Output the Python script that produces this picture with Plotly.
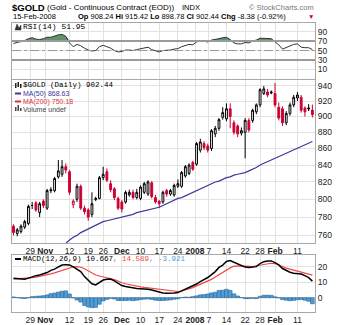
import plotly.graph_objects as go

W, H = 346, 325

# ---------------- data ----------------
dates = [
    "2007-10-22", "2007-10-23", "2007-10-24", "2007-10-25", "2007-10-26",
    "2007-10-29", "2007-10-30", "2007-10-31", "2007-11-01", "2007-11-02",
    "2007-11-05", "2007-11-06", "2007-11-07", "2007-11-08", "2007-11-09",
    "2007-11-12", "2007-11-13", "2007-11-14", "2007-11-15", "2007-11-16",
    "2007-11-19", "2007-11-20", "2007-11-21", "2007-11-23",
    "2007-11-26", "2007-11-27", "2007-11-28", "2007-11-29", "2007-11-30",
    "2007-12-03", "2007-12-04", "2007-12-05", "2007-12-06", "2007-12-07",
    "2007-12-10", "2007-12-11", "2007-12-12", "2007-12-13", "2007-12-14",
    "2007-12-17", "2007-12-18", "2007-12-19", "2007-12-20", "2007-12-21",
    "2007-12-24", "2007-12-26", "2007-12-27", "2007-12-28",
    "2007-12-31", "2008-01-02", "2008-01-03", "2008-01-04",
    "2008-01-07", "2008-01-08", "2008-01-09", "2008-01-10", "2008-01-11",
    "2008-01-14", "2008-01-15", "2008-01-16", "2008-01-17", "2008-01-18",
    "2008-01-22", "2008-01-23", "2008-01-24", "2008-01-25",
    "2008-01-28", "2008-01-29", "2008-01-30", "2008-01-31", "2008-02-01",
    "2008-02-04", "2008-02-05", "2008-02-06", "2008-02-07", "2008-02-08",
    "2008-02-11", "2008-02-12", "2008-02-13", "2008-02-14", "2008-02-15",
]

open_ = [770, 762, 764, 769, 773, 793, 796, 785, 798, 790,
         811, 810, 826, 829, 838, 832, 794, 800, 815, 790,
         788, 783, 801, 801, 825, 832, 818, 812, 801, 797,
         797, 805, 808, 802, 801, 808, 806, 819, 802, 798,
         797, 810, 806, 805, 815, 815, 827, 830, 843, 841,
         858, 866, 863, 860, 878, 885, 899, 897, 910, 892,
         888, 879, 880, 895, 895, 906, 915, 930, 932, 932,
         930, 912, 910, 892, 904, 915, 924, 925, 911, 911, 908.24]
high = [772, 768, 772, 777, 794, 797, 798, 797, 800, 812,
        814, 826, 846, 846, 842, 834, 800, 818, 817, 793,
        790, 808, 803, 827, 838, 836, 822, 814, 803, 799,
        810, 811, 811, 812, 816, 820, 822, 821, 805, 799,
        810, 812, 812, 818, 823, 833, 840, 842, 845, 868,
        872, 869, 866, 884, 888, 898, 912, 917, 917, 895,
        890, 886, 898, 898, 910, 917, 937, 940, 936, 934,
        944, 918, 913, 907, 918, 928, 932, 928, 913, 916, 915.42]
low = [760, 759, 762, 767, 771, 789, 786, 780, 790, 788,
       807, 808, 824, 826, 830, 805, 790, 797, 788, 783,
       776, 780, 798, 800, 822, 820, 808, 799, 788, 785,
       795, 803, 800, 800, 799, 806, 804, 801, 795, 790,
       795, 803, 804, 803, 813, 813, 825, 828, 833, 839,
       855, 858, 855, 857, 874, 882, 896, 894, 885, 877,
       874, 876, 848, 880, 892, 903, 912, 928, 925, 929,
       912, 895, 888, 889, 901, 912, 920, 905, 900, 907, 898.78]
close = [763, 766, 770, 775, 792, 793, 788, 795, 793, 810,
         810, 824, 833, 838, 834, 808, 798, 815, 790, 786,
         780, 795, 800, 825, 829, 822, 811, 802, 790, 789,
         808, 808, 802, 808, 814, 818, 820, 803, 797, 795,
         808, 806, 810, 816, 818, 831, 838, 840, 835, 866,
         868, 861, 858, 882, 885, 896, 905, 910, 900, 880,
         878, 882, 895, 883, 908, 915, 935, 936, 928, 931,
         915, 898, 892, 904, 915, 925, 928, 908, 906, 910, 902.44]
close_before_first = 768

ma50 = [None] * 13 + [
    748, 752, 755, 758, 760, 763, 765, 767, 769, 771,
    773, 775, 776, 777, 778, 779, 780, 781, 782, 783,
    785, 786, 787, 788, 789, 790, 791, 793, 795, 797,
    799, 801, 802, 804, 806, 808, 810, 812, 814, 816,
    818, 820, 821, 823, 825, 826, 828, 829, 830, 831,
    833, 835, 837, 840, 842, 844, 846, 848, 850, 852,
    854, 856, 858, 860, 862, 864, 866, 868.63]

rsi = [65, 67, 69, 71, 75, 77, 74, 73, 75, 78,
       78, 81, 83, 84, 80, 66, 58, 63, 60, 55,
       51, 49, 50, 58, 61, 58, 55, 50, 47, 48,
       51, 51, 50, 52, 54, 56, 57, 52, 49, 47,
       50, 50, 51, 53, 54, 58, 61, 63, 62, 68,
       71, 69, 68, 72, 73, 75, 77, 78, 73, 66,
       64, 64, 67, 66, 70, 72, 76, 76, 75, 75,
       68, 62, 53, 56, 60, 63, 64, 57, 56, 56, 51.95]

macd = [12.5, 12.2, 11.9, 11.9, 12.6, 13.6, 14.2, 14.6, 15.2, 16.2,
        17.6, 18.4, 19.8, 21.0, 21.3, 21.1, 19.8, 18.5, 16.8, 13.6,
        11.0, 9.0, 8.2, 9.8, 11.4, 11.9, 12.0, 10.8, 9.0, 7.8,
        7.2, 6.8, 6.1, 5.9, 5.8, 5.7, 5.5, 4.9, 4.1, 3.4,
        3.0, 2.9, 2.8, 3.0, 3.3, 4.4, 5.4, 6.3, 7.2, 8.8,
        10.4, 11.6, 13.0, 14.9, 16.8, 19.5, 21.0, 23.3, 23.9, 22.8,
        21.7, 20.6, 19.7, 19.4, 19.6, 20.0, 22.0, 23.2, 23.6, 23.7,
        22.6, 21.1, 18.8, 17.4, 16.4, 15.8, 15.6, 15.3, 14.2, 12.9, 10.667]
signal = [12.0, 12.1, 12.2, 12.4, 12.6, 12.9, 13.3, 13.7, 14.2, 14.7,
          15.3, 16.0, 16.8, 17.7, 18.6, 19.3, 19.9, 20.0, 19.6, 18.6,
          17.2, 15.6, 14.6, 14.0, 13.5, 13.0, 12.4, 11.6, 10.8, 9.6,
          9.0, 8.4, 8.0, 7.5, 7.0, 6.6, 6.3, 6.0, 5.7, 5.2,
          4.8, 4.5, 4.2, 4.0, 4.0, 4.3, 5.0, 6.0, 6.5, 7.6,
          8.6, 9.6, 10.6, 11.8, 13.3, 14.8, 16.2, 17.9, 19.2, 20.3,
          20.6, 20.5, 20.3, 20.0, 20.0, 20.6, 21.1, 21.6, 22.0, 22.2,
          22.0, 21.2, 20.0, 19.0, 18.3, 17.5, 16.9, 16.4, 15.8, 15.2, 14.589]
hist = [0.5, 0.1, -0.3, -0.5, 0.0, 0.7, 0.9, 1.1, 1.3, 1.8,
        2.6, 3.0, 3.6, 4.2, 4.4, 2.4, -0.1, -1.5, -2.8, -5.0,
        -6.0, -6.4, -6.2, -4.2, -2.1, -1.1, -0.4, -0.8, -1.8, -1.8,
        -1.8, -1.6, -1.9, -1.6, -1.2, -0.9, -0.8, -1.1, -1.6, -1.8,
        -1.8, -1.6, -1.4, -1.0, -0.7, 0.1, 0.4, 0.3, 0.7, 1.2,
        1.8, 2.0, 2.4, 3.1, 3.5, 4.7, 4.8, 5.4, 4.7, 2.5,
        1.1, 0.1, -0.6, -0.6, -0.4, -0.6, 0.9, 1.6, 1.6, 1.5,
        0.6, -0.1, -1.2, -1.6, -1.9, -1.7, -1.3, -1.1, -1.6, -2.3, -3.921]

tick_pos = [4.5, 8.5, 15, 20, 24, 29, 34, 39, 44, 48.6, 52.3, 57, 62, 66, 70, 76]
tick_text = ["29", "<b>Nov</b>", "12", "19", "26", "<b>Dec</b>", "10", "17", "24",
             "<b>2008</b>", "7", "14", "22", "28", "<b>Feb</b>", "11"]
rsi_ticks = [10, 30, 50, 70, 90]
price_ticks = [760, 780, 800, 820, 840, 860, 880, 900, 920, 940]
macd_ticks = [0, 10, 20]

# ---------------- figure ----------------
n = len(close)
xs = list(range(n))
prev_close = [close_before_first] + close[:-1]
up_i = [i for i in xs if close[i] >= prev_close[i]]
dn_i = [i for i in xs if close[i] < prev_close[i]]

def sub(lst, idx):
    return [lst[i] for i in idx]

RED = "#CC0033"
fig = go.Figure()

# RSI panel
fig.add_trace(go.Scatter(x=xs, y=[70] * n, mode="lines", line=dict(width=0),
                         xaxis="x", yaxis="y", hoverinfo="skip"))
fig.add_trace(go.Scatter(x=xs, y=[max(v, 70) for v in rsi], mode="lines",
                         line=dict(width=0), fill="tonexty", fillcolor="#5E9466",
                         xaxis="x", yaxis="y", hoverinfo="skip"))
fig.add_trace(go.Scatter(x=xs, y=rsi, mode="lines", line=dict(color="#333333", width=1),
                         xaxis="x", yaxis="y"))

# price panel
fig.add_trace(go.Scatter(x=xs, y=ma50, mode="lines", line=dict(color="#3A3A9A", width=1.2),
                         xaxis="x2", yaxis="y2"))
fig.add_trace(go.Candlestick(
    x=up_i, open=sub(open_, up_i), high=sub(high, up_i), low=sub(low, up_i), close=sub(close, up_i),
    increasing=dict(line=dict(color="black", width=1), fillcolor="white"),
    decreasing=dict(line=dict(color="black", width=1), fillcolor="black"),
    whiskerwidth=0, xaxis="x2", yaxis="y2"))
fig.add_trace(go.Candlestick(
    x=dn_i, open=sub(open_, dn_i), high=sub(high, dn_i), low=sub(low, dn_i), close=sub(close, dn_i),
    increasing=dict(line=dict(color=RED, width=1), fillcolor="white"),
    decreasing=dict(line=dict(color=RED, width=1), fillcolor=RED),
    whiskerwidth=0, xaxis="x2", yaxis="y2"))

# MACD panel
fig.add_trace(go.Bar(x=xs, y=hist, width=1, marker=dict(color="#4F9DD6", line=dict(color="#2A6496", width=0.6)),
                     xaxis="x3", yaxis="y3"))
fig.add_trace(go.Scatter(x=xs, y=signal, mode="lines", line=dict(color="#F04848", width=1.2),
                         xaxis="x3", yaxis="y3"))
fig.add_trace(go.Scatter(x=xs, y=macd, mode="lines", line=dict(color="black", width=1.5),
                         xaxis="x3", yaxis="y3"))

def px_x(p):
    return p / W

def px_y(p):
    return 1 - p / H

xdom = [px_x(12), px_x(315)]
xrange_ = [-0.4, 80.7]
grid = "#E2E2E2"
border = "#A8A8A8"
tickfont = dict(family="Liberation Sans", size=8.5, color="#222222")

common_x = dict(domain=xdom, range=xrange_, tickmode="array", tickvals=tick_pos, ticktext=tick_text,
                showgrid=True, gridcolor=grid, showline=True, mirror=True, linecolor=border,
                zeroline=False, ticks="", tickangle=0, tickfont=tickfont, fixedrange=True)
common_y = dict(side="right", showgrid=True, gridcolor=grid, showline=True, mirror=True,
                linecolor=border, zeroline=False, ticks="", tickfont=tickfont, fixedrange=True)

fig.update_layout(
    width=W, height=H, margin=dict(l=0, r=0, t=0, b=0),
    paper_bgcolor="white", plot_bgcolor="white", showlegend=False, hovermode=False,
    xaxis=dict(common_x, anchor="y", showticklabels=False),
    yaxis=dict(common_y, anchor="x", domain=[px_y(79), px_y(23)], range=[-10, 108],
               tickmode="array", tickvals=rsi_ticks),
    xaxis2=dict(common_x, anchor="y2", rangeslider=dict(visible=False)),
    yaxis2=dict(common_y, anchor="x2", domain=[px_y(243), px_y(80)], type="log",
                range=[2.8761, 2.9768], tickmode="array", tickvals=price_ticks,
                ticktext=[str(v) for v in price_ticks]),
    xaxis3=dict(common_x, anchor="y3"),
    yaxis3=dict(common_y, anchor="x3", domain=[px_y(312), px_y(255)], range=[-9.2, 27.5],
                tickmode="array", tickvals=macd_ticks),
)

shapes = []
for lvl in (70, 30):
    shapes.append(dict(type="line", xref="x domain", yref="y", x0=0, x1=1, y0=lvl, y1=lvl,
                       line=dict(color="#9A9A9A", width=2)))
shapes.append(dict(type="line", xref="x domain", yref="y", x0=0, x1=1, y0=50, y1=50,
                   line=dict(color="#9A9A9A", width=1, dash="dashdot")))

def hline(x0, x1, y, color, w=2):
    shapes.append(dict(type="line", xref="paper", yref="paper", x0=px_x(x0), x1=px_x(x1),
                       y0=px_y(y), y1=px_y(y), line=dict(color=color, width=w)))
hline(15, 21, 93.5, "#3A3A9A")
hline(15, 21, 101.5, "#E03040")
hline(15, 21, 259, "black")

def rect(x0, y0, x1, y1, color):
    shapes.append(dict(type="rect", xref="paper", yref="paper", x0=px_x(x0), x1=px_x(x1),
                       y0=px_y(y1), y1=px_y(y0), line=dict(width=0), fillcolor=color))
rect(15, 83, 16.5, 88, "#222")
rect(17.5, 82, 19, 87, "#222")
rect(20, 84, 21.5, 88, "#222")
rect(15, 107, 16.5, 111, "#444")
rect(17.5, 105, 19, 111, "#444")
rect(20, 108, 21.5, 111, "#444")
shapes.append(dict(type="path", xref="paper", yref="paper",
                   path=f"M {px_x(15)} {px_y(30)} L {px_x(17)} {px_y(24)} L {px_x(19)} {px_y(28)} L {px_x(21)} {px_y(25)} L {px_x(21)} {px_y(30)} Z",
                   fillcolor="#333", line=dict(color="#333", width=0.5)))
fig.update_layout(shapes=shapes)

def ann(x, y, text, size=8, color="#000", family="Liberation Sans", anchor="left"):
    return dict(xref="paper", yref="paper", x=px_x(x), y=px_y(y), text=text, showarrow=False,
                xanchor=anchor, yanchor="middle", borderpad=0,
                font=dict(size=size, color=color, family=family))

mono = "Liberation Mono"
anns = [
    ann(11, 7.5, "<b>$GOLD</b>", size=9.5),
    ann(46, 8, "(Gold - Continuous Contract (EOD))", size=8),
    ann(181, 8, "INDX", size=7.5),
    ann(315, 8, "© StockCharts.com", size=7.5, color="#777777", anchor="right"),
    ann(12, 17, "15-Feb-2008", size=7.5),
    ann(77, 17, "<b>Op</b> 908.24 <b>Hi</b> 915.42 <b>Lo</b> 898.78 <b>Cl</b> 902.44 <b>Chg</b> -8.38 (-0.92%)", size=7.5),
    ann(315, 17, "▼", size=6.5, color=RED, anchor="right"),
    ann(22, 27, "RSI(14) 51.95", size=8, family=mono),
    ann(22, 85, "$GOLD (Daily) 902.44", size=7.5, family=mono),
    ann(22, 93.5, "MA(50) 868.63", size=7, color="#3A3A9A"),
    ann(22, 101.5, "MA(200) 750.18", size=7, color="#E03040"),
    ann(22, 109.5, "Volume undef", size=7, color="#444444"),
    ann(22, 259, "MACD(12,26,9) 10.667<span style='color:#F04848'>, 14.589</span><span style='color:#4F9DD6'>, -3.921</span>",
        size=7.5, family=mono),
]
fig.update_layout(annotations=anns)

fig.write_html("out.html")
